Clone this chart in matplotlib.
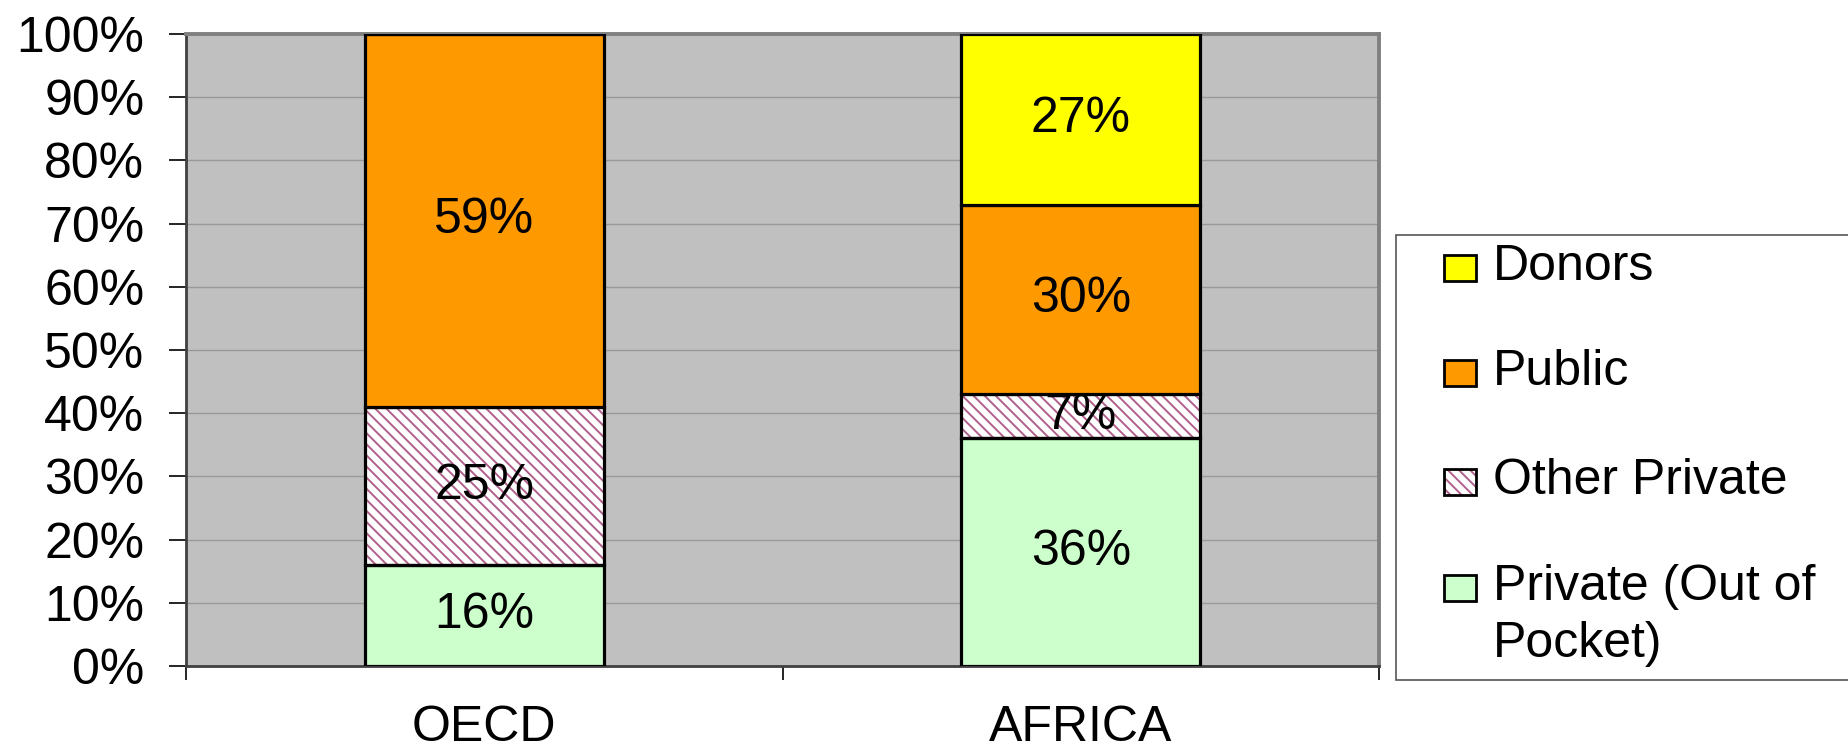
import matplotlib
matplotlib.use("Agg")
import matplotlib.pyplot as plt
from matplotlib.patches import Rectangle
from matplotlib.ticker import PercentFormatter, FixedLocator
import numpy as np

plt.rcParams['font.family'] = ['Liberation Sans', 'DejaVu Sans']
plt.rcParams['hatch.linewidth'] = 1.4

# data (percent of total health spending)
regions = ["OECD", "AFRICA"]
private_oop = [16, 36]
other_private = [25, 7]
public = [59, 30]
donors = [0, 27]

series_names = ["Private (Out of\nPocket)", "Other Private", "Public", "Donors"]
series_values = [private_oop, other_private, public, donors]
series_colors = ["#CCFFCC", "#FFFFFF", "#FF9900", "#FFFF00"]
series_hatch = [None, "\\\\\\", None, None]
hatch_color = "#B0608A"
FS = 36

W, H = 1848, 750
fig = plt.figure(figsize=(W / 100, H / 100), dpi=100)
ax = fig.add_axes([186 / W, 1 - 666 / H, (1379 - 186) / W, (666 - 34) / H])
ax.set_facecolor("#C0C0C0")

x = np.arange(len(regions))
bar_w = 0.4
bottom = np.zeros(len(regions))
for name, vals, col, hat in zip(series_names, series_values, series_colors, series_hatch):
    vals = np.array(vals, dtype=float)
    if hat:
        ax.bar(x, vals, bar_w, bottom=bottom, color=col, hatch=hat,
               edgecolor=hatch_color, linewidth=0, zorder=2)
        ax.bar(x, vals, bar_w, bottom=bottom, fill=False,
               edgecolor="black", linewidth=2.3, zorder=3)
    else:
        ax.bar(x, vals, bar_w, bottom=bottom, color=col,
               edgecolor="black", linewidth=2.3, zorder=3)
    for xi, b, v in zip(x, bottom, vals):
        if v > 0:
            ax.text(xi, b + v / 2, f"{v:.0f}%", ha="center", va="center",
                    fontsize=FS, zorder=4)
    bottom += vals

ax.set_xlim(-0.5, len(regions) - 0.5)
ax.set_ylim(0, 100)
ax.yaxis.set_major_locator(FixedLocator(np.arange(0, 101, 10)))
ax.yaxis.set_major_formatter(PercentFormatter(decimals=0))
ax.set_xticks(x)
ax.set_xticklabels(regions)
ax.xaxis.set_minor_locator(FixedLocator(np.arange(-0.5, len(regions), 1.0)))
ax.tick_params(axis="x", which="major", length=0, pad=28, labelsize=FS)
ax.tick_params(axis="x", which="minor", length=10, width=1.2, direction="out")
ax.tick_params(axis="y", length=12, width=1.2, pad=18, labelsize=FS)

ax.grid(axis="y", color="#999999", linewidth=1.0, zorder=1)
ax.set_axisbelow(True)

for side in ("left", "bottom"):
    ax.spines[side].set_color("#404040")
    ax.spines[side].set_linewidth(2)
for side in ("top", "right"):
    ax.spines[side].set_color("#808080")
    ax.spines[side].set_linewidth(2.8)


# legend drawn in pixel positions, top entry first
def fx(px):
    return px / W


def fy(py):
    return 1 - py / H


fig.patches.append(Rectangle((fx(1396), fy(680)), fx(460), (680 - 235) / H,
                             transform=fig.transFigure, facecolor="white",
                             edgecolor="#555555", linewidth=1.2))
entry_y = [268, 373, 482, 588]
for i, k in enumerate(range(len(series_names) - 1, -1, -1)):
    cy = entry_y[i]
    hat = series_hatch[k]
    fig.patches.append(Rectangle((fx(1444), fy(cy + 13)), fx(32), 26 / H,
                                 transform=fig.transFigure,
                                 facecolor=series_colors[k], hatch=hat,
                                 edgecolor=hatch_color if hat else "black",
                                 linewidth=0 if hat else 2))
    if hat:
        fig.patches.append(Rectangle((fx(1444), fy(cy + 13)), fx(32), 26 / H,
                                     transform=fig.transFigure, fill=False,
                                     edgecolor="black", linewidth=2))
    for j, line in enumerate(series_names[k].split("\n")):
        fig.text(fx(1493), fy(cy + 12 + 57 * j), line, ha="left", va="baseline",
                 fontsize=FS)

fig.savefig("out.png", dpi=100)
